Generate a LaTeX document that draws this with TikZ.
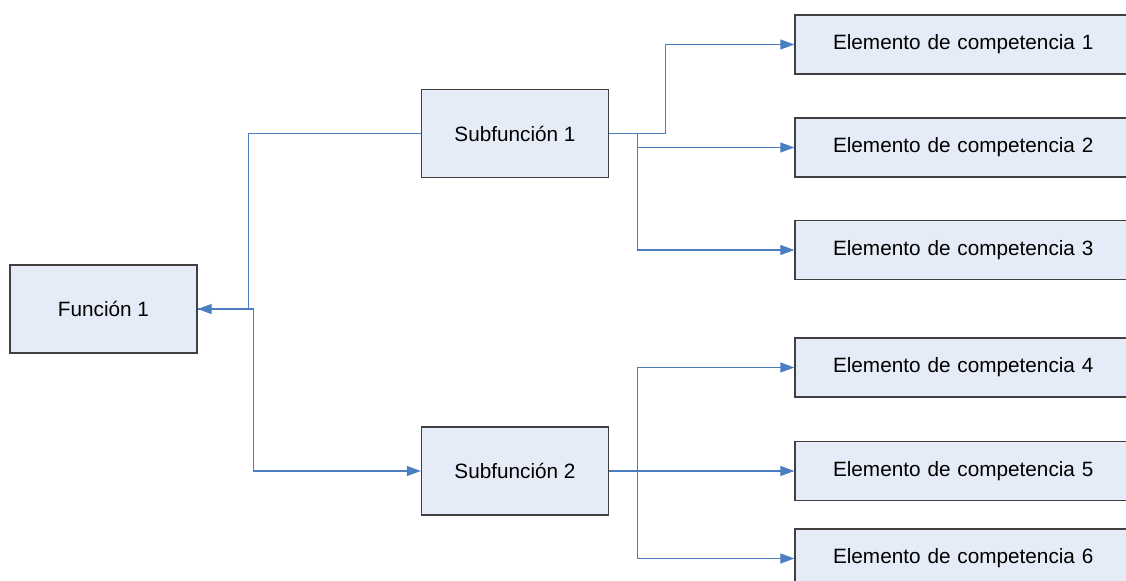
\documentclass[tikz,border=0pt]{standalone}
\usepackage{fontspec}
\setmainfont{Liberation Sans}
\usepackage{tikz}
\usetikzlibrary{arrows.meta,positioning,calc}
\usepackage{xcolor}
\definecolor{boxfill}{RGB}{230,236,247}
\definecolor{boxline}{RGB}{64,64,64}
\definecolor{linkblue}{RGB}{74,126,192}

\begin{document}
\begin{tikzpicture}[
    x=0.02cm, y=-0.02cm,
    box/.style={rectangle, draw=boxline, fill=boxfill, line width=0.8pt, inner sep=0pt, font=\fontsize{11.8}{14}\selectfont},
    func/.style={box, minimum width=3.74cm, minimum height=1.76cm},
    elem/.style={box, minimum width=6.9cm, minimum height=1.18cm, text width=6.7cm, align=left},
    link/.style={draw=linkblue, line width=0.6pt, -{Triangle[length=0.28cm,width=0.2cm]}}
]
\useasboundingbox (0,0) rectangle (1126,581);

% Function
\node[func] (func1) at (103.5,309) {Función 1};

% Subfunctions
\node[func] (sub1) at (515,133.5) {Subfunción 1};
\node[func] (sub2) at (515,471) {Subfunción 2};

% Competence elements
\node[elem] (ec1) at (967.5,44.5) {\hspace*{0.66cm}Elemento de competencia 1};
\node[elem] (ec2) at (967.5,147.5) {\hspace*{0.66cm}Elemento de competencia 2};
\node[elem] (ec3) at (967.5,250) {\hspace*{0.66cm}Elemento de competencia 3};
\node[elem] (ec4) at (967.5,367.5) {\hspace*{0.66cm}Elemento de competencia 4};
\node[elem] (ec5) at (967.5,471) {\hspace*{0.66cm}Elemento de competencia 5};
\node[elem] (ec6) at (967.5,558.5) {\hspace*{0.66cm}Elemento de competencia 6};

% Arrows - function level
\draw[link] (sub1.west) -- ++(-172,0) |- (func1.east);
\draw[link] (func1.east) -- ++(56,0) |- (sub2.west);

% Arrows - subfunction 1
\draw[link] (sub1.east) -- ++(56,0) |- (ec1.west);
\draw[link] (sub1.east) -- ++(28,0) |- (ec2.west);
\draw[link] (sub1.east) -- ++(28,0) |- (ec3.west);

% Arrows - subfunction 2
\draw[link] (sub2.east) -- ++(28,0) |- (ec4.west);
\draw[link] (sub2.east) -- (ec5.west);
\draw[link] (sub2.east) -- ++(28,0) |- (ec6.west);

\end{tikzpicture}
\end{document}
